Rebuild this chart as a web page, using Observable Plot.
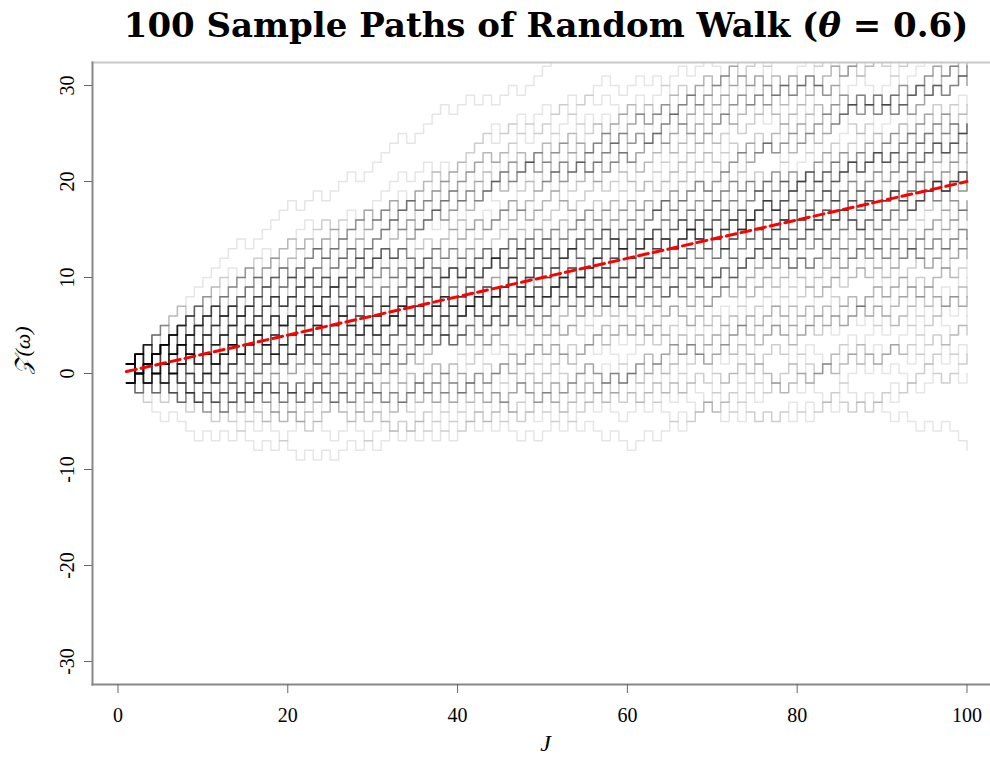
<!DOCTYPE html>
<html>
<head>
<meta charset="utf-8">
<script src="https://cdn.jsdelivr.net/npm/d3@7"></script>
<script src="https://cdn.jsdelivr.net/npm/@observablehq/plot@0.6"></script>
<style>
  html, body { margin: 0; padding: 0; background: #fff; }
  #title { width: 990px; height: 50px; box-sizing: border-box; padding-left: 102px; text-align: center;
    font-family: "DejaVu Serif", serif; font-weight: bold; font-size: 34px; line-height: 50px; color: #000; white-space: nowrap; }
  #chart svg { display: block; }
</style>
</head>
<body>
<div id="title">100 Sample Paths of Random Walk (<i>θ</i> = 0.6)</div>
<div id="chart"></div>
<script>
// Each path: 100 steps read/, "1" = up (+1), "0" = down (-1)
const stepPaths = [
"1111111111 1111011111 0110111011 1110111101 1010110111 1101101011 0110100110 1011010110 0101101001 1101011010",
"0000010001 0101001010 0101011010 1101101011 0110101101 1011011010 1101101101 0110110101 1010110110 1101011011",
"0100101001 0010100101 0101100101 0010110100 1010100101 1010100100 1101101110 1101101011 0110110101 1011010110",
"1001001010 0101101001 0110010101 1001101001 0101001011 1001010101 0110100010 1010010101 0110101010 0100101000",
"0010100100 0100101001 1010011001 1010010101 1101010110 0101101001 1010010110 0101010110 1011001011 0110110111",
"1111011011 1111101111 1101011010 1101110110 1101111101 0110100110 1011011101 1011111011 0111101101 1110110011",
"1011110110 0111110111 1110111110 1001011001 1111111011 0101110111 0111010110 1111011011 1110101101 1101111101",
"1100100101 1101011101 1111101111 1011111011 1011100101 0111110111 1101110110 1111111011 1101101001 1011011101",
"0111101101 1110111110 1111101111 1110110011 1111011011 0110111001 1010110110 0101100011 1010011010 1011110110",
"1111111011 0011101001 0101110111 1110010110 1101111101 1110101101 1011111011 1010101001 0111110111 1011011010",
"0110101101 1110111110 1111011011 1101011101 0110010010 1101111101 1101110110 1011011101 1001110110 0111101101",
"1110110011 0110011010 1111101111 1011110110 0101110111 1011111011 1001100101 1110101101 1111111011 1101011010",
"1111101111 0111110111 0111010110 1101011101 0101011100 1101110110 1110111110 0110100110 1011011101 0111101101",
"1101111101 1011100101 1111011011 1111111011 1110110011 1101101001 1001001010 1011110110 0101110111 1110101101",
"1011111011 0110111001 1101011101 1001011001 0111110111 1101110110 1111101111 1100100101 1011011101 0111101101",
"1110111110 1111111011 0101100011 1111011011 1110110011 1010011010 1011110110 1101111101 1010110110 1011111011",
"0101110111 1110111110 0111110111 1110010110 1110101101 1111011011 0011101001 1011011010 1001001010 1101011101",
"0111110111 1101111101 0110101101 1101110110 1011111011 0110011010 1011011101 1010101001 1001100101 0111101101",
"1110111110 1110110011 0101011100 1001110110 1111011011 1011110110 0110100110 0101110111 1101011010 0111010110",
"1111101111 1011100101 1001011001 1110101101 1101101001 1100100101 1101111101 1101011101 0110111001 1101110110",
"0111110111 1011011101 1011111011 0111101101 1010110110 0101001100 0101100011 1110110011 1011110110 0101110111",
"1110010110 1111011011 1110101101 1110111110 1011011010 1101011101 1010011010 0011101001 1101110110 1101111101",
"1011111011 0111110111 1011011101 1010101001 0110101101 1001110110 0110011010 1110111110 1101011010 0111010110",
"1011100101 0111101101 1111011011 1010000110 1110110011 1011110110 1101111101 1101101001 0110111001 0101110111",
"1110101101 0111110111 1010110110 1011111011 1101011101 0101011100 1110010110 1001100101 1101110110 1011011101",
"0100100010 1011011010 1110111110 0111101101 1111011011 1110110011 0110101101 1011110110 0101110111 1001110110",
"1111111011 1110101101 1101011101 1101111101 0110100110 0011000101 1101011010 0111010110 1011100101 1101110110",
"1101101001 0110111001 1011011101 1011111011 0111110111 1010110110 0111101101 1110110011 1001011001 1011110110",
"0101110111 1110111110 1110101101 1111011011 1110010110 1101011101 1011011010 0101100011 1100100101 1101110110",
"1101111101 0110101101 1011111011 1011011101 0111101101 1010011010 1110110011 1001110110 0011101001 1011110110",
"1101011010 0101110111 1110101101 1010101001 0111010110 1011100101 0110011010 0111110111 1101101001 1101011101",
"1110111110 1001100101 0110111001 1010110110 1101110110 1011011101 0101011100 1110010110 0110100110 0111101101",
"0100110001 1011011010 1110110011 1111011011 1011110110 1001011001 0110101101 0101110111 1001110110 1110101101",
"1101011010 1101111101 1100100101 0111010110 1011111011 0101100011 1011100101 1101101001 1101011101 0110111001",
"1101110110 1011011101 1010110110 1010011010 1110010110 1011011010 0111101101 0011101001 0110101101 1110110011",
"1010101001 1000101010 1001110110 0111110111 1101011010 1110111110 0111010110 1011110110 1011100101 0101110111",
"1101101001 0110111001 0110011010 1110101101 1010110110 1110010110 1111011011 1101011101 1011011010 1101110110",
"1101111101 0110101101 1011011101 1001110110 1001100101 0111101101 0101011100 1101011010 0111010110 1011100101",
"0110100110 1110110011 1101101001 1001011001 1011110110 0101110111 0110111001 1100100101 1011111011 1010110110",
"1110101101 0101100011 1110010110 1101011101 1011011010 1010011010 0111110111 0110101101 1001110110 1101110110",
"1111101111 1101011010 0101010001 0111010110 1011100101 1011011101 0111101101 0011101001 1110110011 1101101001",
"0110111001 1010101001 1110111110 1011110110 1010110110 0110011010 1110010110 0101110111 1001100101 1110101101",
"0101011100 1011011010 1101011101 0110100110 1101110110 1111011011 1011011101 1001011001 0111101101 1110110011",
"1011110110 0110101101 1100100101 1001110110 1101111101 1101011010 0111010110 0101100011 1011111011 1011100101",
"1101101001 0111110111 0101110111 1010011010 0110111001 0011101001 1110101101 1010110110 1110010110 1011011010",
"1010101001 0110101101 1001110110 1101011101 0110011010 1101110110 1101011010 0111010110 1110111110 1011100101",
"0010010100 1001100101 1011011101 1111011011 1101101001 0111101101 0110111001 1101111101 1010110110 1110110011",
"1011111011 1011110110 1110010110 0110010010 1011011010 0110101101 0101011100 0111110111 1001110110 0101110111",
"1101011010 1110101101 0110100110 0111010110 1101011101 1011100101 1001011001 1101110110 1110111110 1011011101",
"0111101101 1101101001 1001001010 0110111001 1110110011 1100100101 1111011011 1010110110 1110010110 1011110110",
"1011011010 0101110111 0101100011 0110101101 1001110110 1110101101 1010011010 1101011010 0111010110 1011100101",
"0011101001 1010101001 1101011101 1101101001 1101110110 0110011010 0110111001 1011011101 1001100101 0111101101",
"1101111101 1010110110 0101011100 0101001100 1110010110 1110110011 1011011010 0110101101 0110100110 1011110110",
"1010000110 0101110111 1001110110 1101011010 1001011001 1110101101 0111010110 1101011101 1011100101 1101101001",
"1101110110 1100100101 0110111001 1011111011 0011000101 1010110110 1110010110 1011011010 0101100011 1011011101",
"0110101101 0111110111 1001110110 1010011010 0111101101 0100110001 1101011010 1110110011 0011101001 0111010110",
"1011110110 1011100101 1010101001 1101101001 0101110111 0110011010 0110111001 1010110110 1110010110 1001100101",
"1110111110 0101011100 1000101010 1110101101 1011011010 0110101101 1101011101 0110100110 1001110110 1101110110",
"0101010001 1001011001 1101011010 1011011101 0111101101 0111010110 1100100101 1011100101 1110110011 1101101001",
"0110111001 1010110110 1111011011 0101100011 1110010110 1011110110 0110010010 1011011010 0110101101 1001110110",
"1010011010 0101110111 1101011010 0111010110 0011101001 1101111101 1011100101 1101101001 1010101001 1110101101",
"1011111011 1101011101 0110111001 0110011010 1001001010 1010110110 1101110110 1001100101 1110010110 1011011010",
"0101011100 0110101101 0110100110 1011011101 1001110110 1101011010 1001011001 0111101101 0111010110 1011100101",
"1101101001 1100100101 1110110011 0110111001 1010110110 0101100011 1010011010 1011110110 0101110111 1110010110",
"1011011010 0101001100 1110101101 0110101101 1001110110 1101011010 1101011101 0011101001 1101110110 1011011101",
"0111101101 0111010110 1011100101 1110110011 1010101001 1101101001 0110111001 1010110110 0110011010 1110010110",
"1011011010 0110101101 1010000110 1001110110 1011110110 1101011010 0111010110 1011100101 1101101001 0110111001",
"1001100101 0111110111 1010110110 1110010110 1011011010 0101011100 0101110111 0110101101 1001110110 1101011010",
"1000100100 0111010110 1011100101 1110101101 1101101001 0110111001 1010110110 1101011101 1110010110 1101110110",
"1011011010 1011011101 0110101101 0110100110 1001011001 1001110110 0111101101 1101011010 1100100101 1110110011",
"1011110110 0101100011 0111010110 1011100101 0101110111 0011000101 1101101001 1110101101 0110111001 1010110110",
"1010011010 1110010110 1101011101 1101110110 0011101001 1011011010 0110101101 1010101001 1011011101 1001110110",
"1101011010 0111010110 0111101101 0100110001 1011100101 0110011010 1110110011 1101101001 1001100101 0110111001",
"0101011100 1011110110 0110100110 1010110110 1110010110 1000101010 0101110111 1011011010 0110101101 1001110110",
"1110101101 0101010001 1101011010 0111010110 1001011001 1011100101 1100100101 1101011101 1101101001 0101100011",
"0110010010 1010011010 1101110110 0110111001 1010110110 1110010110 0011101001 1010101001 1011011010 1011011101",
"0110101101 0111101101 0110011010 1001001010 1001110110 1110110011 1101011010 1001100101 0111010110 0101011100",
"1111011011 1011100101 0101001100 0110100110 1101101001 1001011001 0110111001 1011110110 1010000110 1010110110",
"0011000101 0100110001 1110010110 0101110111 1011011010 0110101101 1100100101 1001110110 1101011010 0111010110",
"1110101101 1011100101 1101101001 0101100011 0110111001 1010011010 1000101010 1010110110 0011101001 1110010110",
"1010101001 1011011010 0110011010 1101011101 1001100101 0110101101 1001110110 1101110110 0101011100 1101011010",
"0111010110 0110100110 1001011001 1011100101 1011011101 1100100101 0101100011 1101101001 0110111001 1010011010",
"0011101001 0111101101 1010110110 0101010001 1110010110 1110110011 1011011010 1010101001 0110011010 0110101101",
"1001110110 1101011010 1001100101 0111010110 0110010010 1011110110 1011100101 1101101001 0110111001 1010110110",
"1001001010 0101011100 0110100110 1110010110 0101110111 1011011010 0110101101 1001110110 1101011010 0111010110",
"1101111101 1001011001 1100100101 1011100101 0101100011 1010011010 1101101001 0110111001 0011101001 1010110110",
"1110010110 1010101001 1011011010 0110011010 1110101101 1001100101 0110101101 1001110110 0101011100 1101011010",
"0110100110 0101001100 0111010110 1001011001 0101100011 1100100101 1011100101 1101101001 1101011101 0110111001",
"0001010010 1010011010 0011101001 1010110110 1101110110 1010101001 1110010110 0110011010 1011011010 0110101101",
"1011011101 1001100101 1010000110 0101011100 0110100110 1001110110 1001011001 1101011010 0111010110 1100100101",
"0101100011 0011000101 1010011010 0011101001 1010101001 1011100101 1101101001 0110111001 1010110110 1110010110",
"0100110001 0110100110 0110011010 1001100101 0101011100 0110101101 1011011010 1001011001 1001110110 1101011010",
"0111010110 0111101101 1000101010 1100100101 0101100011 1010011010 1011100101 0011101001 1010101001 1101101001",
"0101010001 0110010010 0110100110 0110011010 1001100101 1010110110 0101011100 1110010110 0110111001 1110110011",
"1001011001 1011011010 1100100101 1001001010 0110101101 1001110110 0101100011 1010011010 1101011010 0111010110",
"1011100101 0011101001 1101101001 1010101001 0101001100 0110111001 1010110110 0110011010 1110010110 1011011010",
"1001100101 0101011100 1010000110 0110100110 1001011001 0110101101 1100100101 0101100011 1010011010 1001110110",
"0011000101 0011101001 1010101001 0110011010 1101011010 1001100101 0101011100 0110100110 0111010110 1001011001",
"1100100101 0100110001 0101100011 0101011100 1010011010 0011101001 1010101001 0110011010 1001100101 1011100101",
"1101101001 0110100110 1000101010 1001011001 1100100101 0101100011 0110111001 1010011010 0011101001 1010110110"
];

// Expected value line E[Z] = (2θ - 1) J, drawn from its end points
const expectedJ = [1, 100];
const expectedZ = [0.2, 20];

const xTicks = [0, 20, 40, 60, 80, 100];
const yTicks = [-30, -20, -10, 0, 10, 20, 30];
const xLabel = "J";
const yLabel = "𝒵(ω)";

const walkRows = [];
stepPaths.forEach((s, p) => {
  const steps = s.replace(/\s+/g, "");
  let z = 0;
  for (let i = 0; i < steps.length; i++) {
    z += steps[i] === "1" ? 1 : -1;
    walkRows.push({path: p, J: i + 1, Z: z});
  }
});
const expectedRows = expectedJ.map((j, i) => ({J: j, Z: expectedZ[i]}));

const chart = Plot.plot({
  width: 990,
  height: 712,
  marginTop: 12,
  marginRight: 0,
  marginBottom: 78,
  marginLeft: 92,
  x: {domain: [-3.0, 102.77], axis: null},
  y: {domain: [-32.4, 32.4], axis: null},
  style: {fontFamily: "'Liberation Serif', serif", background: "#fff", color: "#000"},
  marks: [
    Plot.line(walkRows, {x: "J", y: "Z", z: "path", curve: "step-after", stroke: "#000", strokeOpacity: 0.1, strokeWidth: 1.5, clip: true}),
    Plot.line(expectedRows, {x: "J", y: "Z", stroke: "#ff0000", strokeWidth: 3, strokeDasharray: "10,5", clip: true}),
    Plot.frame({anchor: "top", stroke: "#c8c8c8", strokeWidth: 2}),
    Plot.frame({anchor: "left", stroke: "#888", strokeWidth: 2}),
    Plot.frame({anchor: "bottom", stroke: "#888", strokeWidth: 2}),
    Plot.axisX(xTicks, {label: null, tickSize: 9, tickPadding: 14, fontSize: 20, stroke: "#666", fill: "#000", tickFormat: d => String(d)}),
    Plot.axisY(yTicks, {label: null, tickSize: 8, tickPadding: 11, tickRotate: -90, fontSize: 20, stroke: "#666", fill: "#000", tickFormat: d => String(d)}),
    Plot.text([yLabel], {text: d => d, frameAnchor: "left", dx: -70, rotate: -90, fontSize: 22, fontStyle: "italic"}),
    Plot.text([xLabel], {text: d => d, frameAnchor: "bottom", dx: 4, dy: 66, fontSize: 24, fontStyle: "italic"})
  ]
});
document.getElementById("chart").appendChild(chart);
</script>
</body>
</html>
